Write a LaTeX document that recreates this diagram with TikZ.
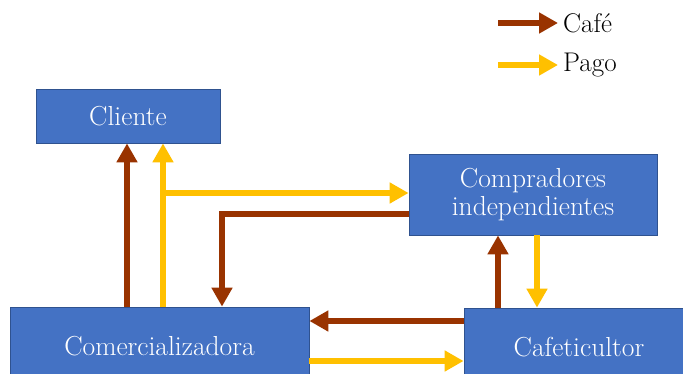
\documentclass[tikz,border=0pt]{standalone}
\usepackage{fontspec}
\setmainfont{Latin Modern Roman}
\usetikzlibrary{arrows.meta}
\definecolor{boxfill}{HTML}{4472C4}
\definecolor{boxline}{HTML}{2F528F}
\definecolor{cafecol}{HTML}{993300}
\definecolor{pagocol}{HTML}{FFC000}
\begin{document}
\begin{tikzpicture}[x=1pt,y=-1pt,
  box/.style={draw=boxline, line width=0.8pt, fill=boxfill, text=white, inner sep=0pt,
    font=\fontsize{27.5}{28}\selectfont, align=center},
  lbl/.style={inner ysep=0pt, inner xsep=5pt, font=\fontsize{27}{27}\selectfont},
  cafe/.style={draw=cafecol, line width=6pt, -{Triangle[length=19pt,width=20pt]}},
  pago/.style={draw=pagocol, line width=6pt, -{Triangle[length=19pt,width=20pt]}}]
\useasboundingbox (0,0) rectangle (683,374);
\clip (0,0) rectangle (683,374);
\fill[white] (0,0) rectangle (683,374);
% boxes
\node[box, minimum width=184pt, minimum height=54pt] (cli) at (128,116) {Cliente};
\node[box, minimum width=248pt, minimum height=81pt] (comp) at (533,194.5) {Compradores\\independientes};
\node[box, minimum width=299pt, minimum height=78pt] (com) at (159.5,346) {Comercializadora};
\node[box, minimum width=230pt, minimum height=78pt] (caf) at (579,347) {Cafeticultor};
% connectors
\draw[cafe] (com.north -| 127,0) -- (cli.south -| 127,0);
\draw[pago] (com.north -| 163,0) -- (cli.south -| 163,0);
\coordinate (pj) at (163,193);
\draw[pago] (pj) -- (comp.west |- pj);
\coordinate (cb) at (222,214);
\draw[cafe] (comp.west |- cb) -- (cb) -- (com.north -| cb);
\draw[cafe] (caf.north -| 498,0) -- (comp.south -| 498,0);
\draw[pago] (comp.south -| 537,0) -- (caf.north -| 537,0);
\coordinate (cl) at (0,321);
\draw[cafe] (caf.west |- cl) -- (com.east |- cl);
\coordinate (pl) at (0,361);
\draw[pago] (com.east |- pl) -- (caf.west |- pl);
% legend
\node[lbl, anchor=west] (lcafe) at (558,23) {Café};
\node[lbl, anchor=west] (lpago) at (558,65) {Pago};
\coordinate (lc0) at (498,23);
\coordinate (lp0) at (498,65);
\draw[cafe] (lc0) -- (lcafe.west);
\draw[pago] (lp0) -- (lpago.west);
\end{tikzpicture}
\end{document}
